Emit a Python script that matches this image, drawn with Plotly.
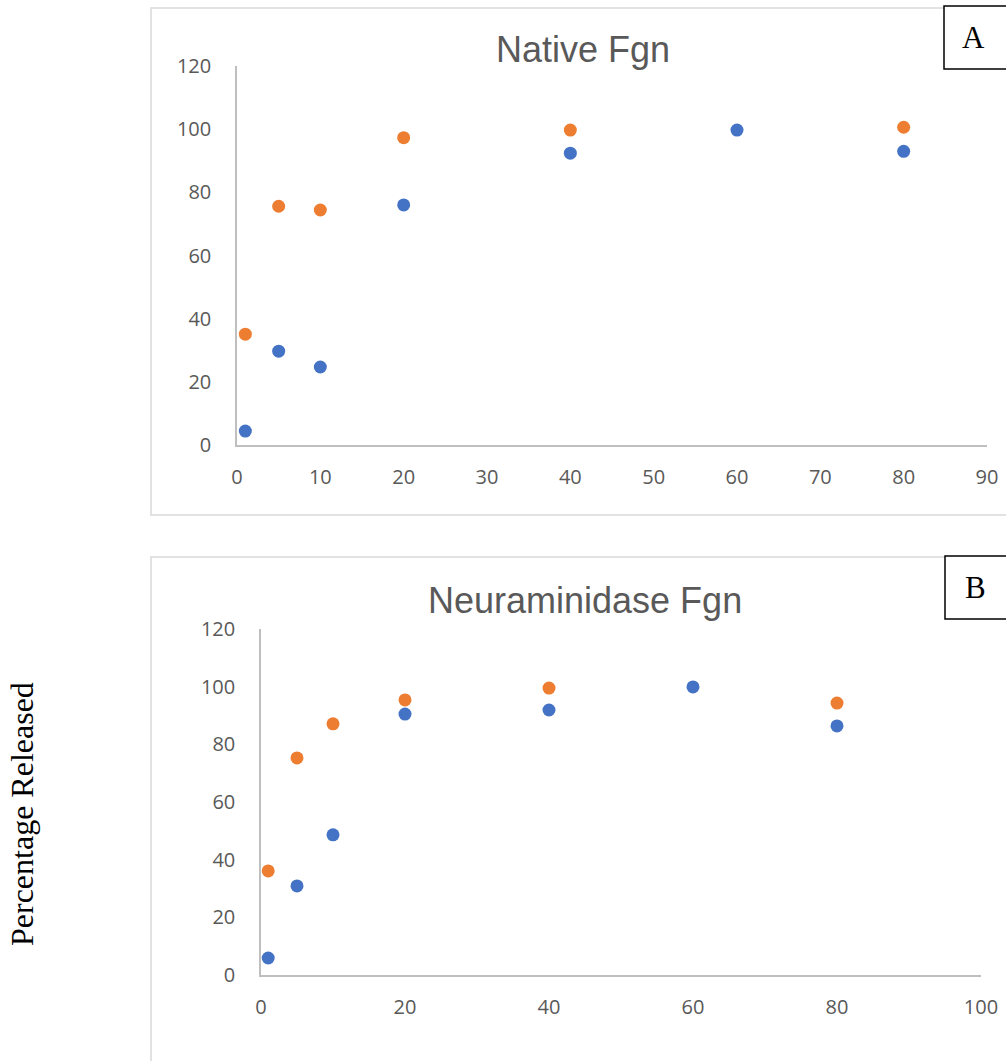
import plotly.graph_objects as go

W, H = 1006, 1061

# Data
x_a = [1, 5, 10, 20, 40, 60, 80]
blue_a = [4.4, 29.7, 24.7, 76.0, 92.4, 99.7, 93.0]
x_a_or = [1, 5, 10, 20, 40, 80]
orange_a = [35.1, 75.6, 74.4, 97.3, 99.7, 100.6]

x_b = [1, 5, 10, 20, 40, 60, 80]
blue_b = [5.9, 30.9, 48.6, 90.5, 91.9, 99.9, 86.4]
x_b_or = [1, 5, 10, 20, 40, 80]
orange_b = [36.1, 75.3, 87.1, 95.4, 99.5, 94.3]

title_a = "Native Fgn"
title_b = "Neuraminidase Fgn"
ytitle = "Percentage Released"

BLUE = "#4472C4"
ORANGE = "#ED7D31"
TICKC = "#595959"
AXC = "#BFBFBF"

def px(x):
    return x / W

def py(y):
    return 1 - y / H

fig = go.Figure()
mk = dict(size=13)
fig.add_trace(go.Scatter(x=x_a, y=blue_a, mode="markers", marker=dict(color=BLUE, **mk), xaxis="x", yaxis="y", showlegend=False))
fig.add_trace(go.Scatter(x=x_a_or, y=orange_a, mode="markers", marker=dict(color=ORANGE, **mk), xaxis="x", yaxis="y", showlegend=False))
fig.add_trace(go.Scatter(x=x_b, y=blue_b, mode="markers", marker=dict(color=BLUE, **mk), xaxis="x2", yaxis="y2", showlegend=False))
fig.add_trace(go.Scatter(x=x_b_or, y=orange_b, mode="markers", marker=dict(color=ORANGE, **mk), xaxis="x2", yaxis="y2", showlegend=False))

tickfont = dict(family="Open Sans", size=20, color=TICKC)
common_x = dict(showgrid=False, zeroline=False, showline=True, linecolor=AXC, linewidth=1.5,
                ticks="", tickfont=tickfont, ticklabelstandoff=13, fixedrange=True, automargin=False)
common_y = dict(showgrid=False, zeroline=False, showline=True, linecolor=AXC, linewidth=1.5,
                ticks="", tickfont=tickfont, ticklabelstandoff=20, fixedrange=True, automargin=False)

fig.update_layout(
    width=W, height=H, autosize=False,
    margin=dict(l=0, r=0, t=0, b=0, pad=0),
    paper_bgcolor="white", plot_bgcolor="white",
    xaxis=dict(domain=[px(237), px(987)], range=[0, 90], dtick=10, anchor="y", **common_x),
    yaxis=dict(domain=[py(445), py(66)], range=[0, 120], dtick=20, anchor="x", **common_y),
    xaxis2=dict(domain=[px(261), px(981)], range=[0, 100], dtick=20, anchor="y2", **common_x),
    yaxis2=dict(domain=[py(975), py(629)], range=[0, 120], dtick=20, anchor="x2", **common_y),
)

shapes = [
    dict(type="rect", xref="paper", yref="paper", x0=px(151), x1=px(1030), y0=py(515), y1=py(8),
         line=dict(color="#D9D9D9", width=1.5), fillcolor="rgba(0,0,0,0)", layer="below"),
    dict(type="rect", xref="paper", yref="paper", x0=px(151), x1=px(1030), y0=py(1100), y1=py(557),
         line=dict(color="#D9D9D9", width=1.5), fillcolor="rgba(0,0,0,0)", layer="below"),
    dict(type="rect", xref="paper", yref="paper", x0=px(944), x1=px(1030), y0=py(69), y1=py(6),
         line=dict(color="black", width=1.5), fillcolor="white"),
    dict(type="rect", xref="paper", yref="paper", x0=px(945), x1=px(1030), y0=py(619), y1=py(556),
         line=dict(color="black", width=1.5), fillcolor="white"),
]
fig.update_layout(shapes=shapes)

annots = [
    dict(text=title_a, x=px(583), y=py(50), xref="paper", yref="paper", showarrow=False,
         font=dict(family="Liberation Sans", size=36, color=TICKC), xanchor="center", yanchor="middle"),
    dict(text=title_b, x=px(585), y=py(600), xref="paper", yref="paper", showarrow=False,
         font=dict(family="Liberation Sans", size=36, color=TICKC), xanchor="center", yanchor="middle"),
    dict(text="A", x=px(973), y=py(37), xref="paper", yref="paper", showarrow=False,
         font=dict(family="Liberation Serif", size=31, color="black"), xanchor="center", yanchor="middle"),
    dict(text="B", x=px(975), y=py(587), xref="paper", yref="paper", showarrow=False,
         font=dict(family="Liberation Serif", size=31, color="black"), xanchor="center", yanchor="middle"),
    dict(text=ytitle, x=px(22), y=py(814), xref="paper", yref="paper", showarrow=False, textangle=-90,
         font=dict(family="Liberation Serif", size=32, color="black"), xanchor="center", yanchor="middle"),
]
fig.update_layout(annotations=annots)

fig.write_html("out.html")
